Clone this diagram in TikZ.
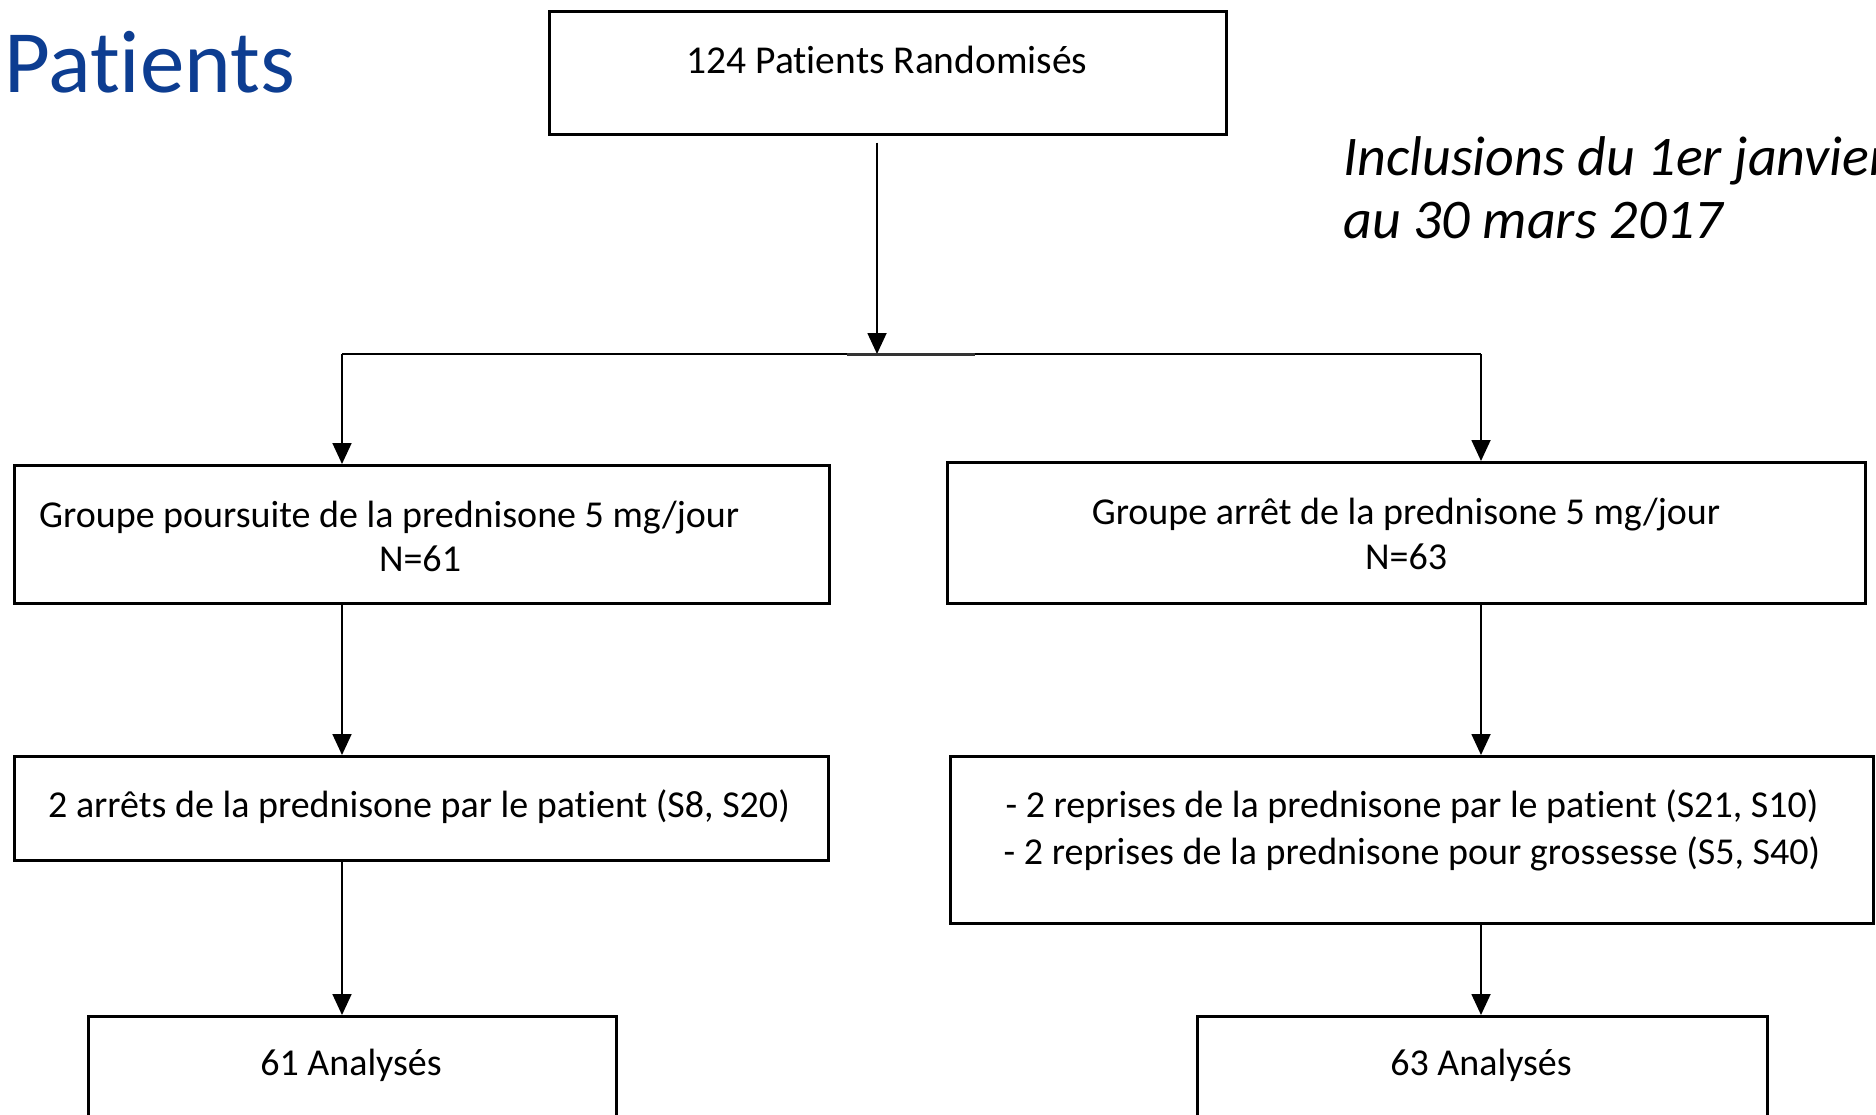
\documentclass[tikz,border=0pt]{standalone}
\usepackage{fontspec}
\setmainfont{Carlito}[Ligatures={NoCommon}]
\usetikzlibrary{arrows.meta}
\definecolor{titleblue}{RGB}{13,61,145}
\tikzset{
  box/.style={draw=black, line width=2.6pt, inner sep=0pt},
  conn/.style={draw=black, line width=1.8pt, -{Triangle[width=19pt,length=21pt]}},
  plainline/.style={draw=black, line width=1.8pt},
  txt/.style={font=\fontsize{38}{46}\selectfont, anchor=base, inner sep=0pt, text=black},
  txtw/.style={txt, anchor=base west},
  bigtxt/.style={txt, font=\fontsize{39.5}{48}\selectfont},
  note/.style={font=\itshape\fontsize{56}{64}\selectfont, anchor=base west, inner sep=0pt, text=black},
  title/.style={font=\fontsize{89}{100}\selectfont, anchor=base west, inner sep=0pt, text=titleblue},
}
\begin{document}
\begin{tikzpicture}[x=1pt,y=-1pt]
\path[use as bounding box] (0,0) rectangle (1876,1114);
\clip (0,0) rectangle (1876,1114);
\fill[white] (0,0) rectangle (1876,1114);

% boxes
\node[box, anchor=north west, minimum width=677pt, minimum height=123pt] (top) at (548,10) {};
\node[box, anchor=north west, minimum width=815pt, minimum height=138pt] (gl) at (13,464) {};
\node[box, anchor=north west, minimum width=918pt, minimum height=141pt] (gr) at (946,461) {};
\node[box, anchor=north west, minimum width=814pt, minimum height=104pt] (al) at (13,755) {};
\node[box, anchor=north west, minimum width=923pt, minimum height=167pt] (ar) at (949,755) {};
\node[box, anchor=north west, minimum width=528pt, minimum height=140pt] (fl) at (87,1015) {};
\node[box, anchor=north west, minimum width=570pt, minimum height=140pt] (fr) at (1196,1015) {};

% texts
\node[title] (ttl) at (4,92) {Patients};
\node[bigtxt] (ttop) at (887,73) {124 Patients Randomisés};
\node[note] (n1) at (1343,175) {Inclusions du 1er janvier};
\node[note] (n2) at (1343,238) {au 30 mars 2017};
\node[txtw] (gl1) at (39,527) {Groupe poursuite de la prednisone 5 mg/jour};
\node[txt] (gl2) at (420,571) {N=61};
\node[txt] (gr1) at (1406,524) {Groupe arrêt de la prednisone 5 mg/jour};
\node[txt] (gr2) at (1406,569) {N=63};
\node[txt] (alt) at (419,817) {2 arrêts de la prednisone par le patient (S8, S20)};
\node[txt] (ar1) at (1412,817) {- 2 reprises de la prednisone par le patient (S21, S10)};
\node[txt] (ar2) at (1412,864) {- 2 reprises de la prednisone pour grossesse (S5, S40)};
\node[txt] (flt) at (351,1075) {61 Analysés};
\node[txt] (frt) at (1481,1075) {63 Analysés};

% connectors
\coordinate (split) at (877,354);
\coordinate (splitL) at (342,354);
\coordinate (splitR) at (1481,354);
\coordinate (thickA) at (847,354);
\coordinate (thickB) at (975,354);
\draw[conn] ([yshift=-7pt]top.south -| split) -- (split);
\draw[plainline] (splitL) -- (splitR);
\draw[draw=black!80, line width=3pt] (thickA) -- (thickB);
\draw[conn] (splitL) -- (gl.north -| splitL);
\draw[conn] (splitR) -- (gr.north -| splitR);
\draw[conn] (gl.south -| splitL) -- (al.north -| splitL);
\draw[conn] (gr.south -| splitR) -- (ar.north -| splitR);
\draw[conn] (al.south -| splitL) -- (fl.north -| splitL);
\draw[conn] (ar.south -| splitR) -- (fr.north -| splitR);
\end{tikzpicture}
\end{document}
